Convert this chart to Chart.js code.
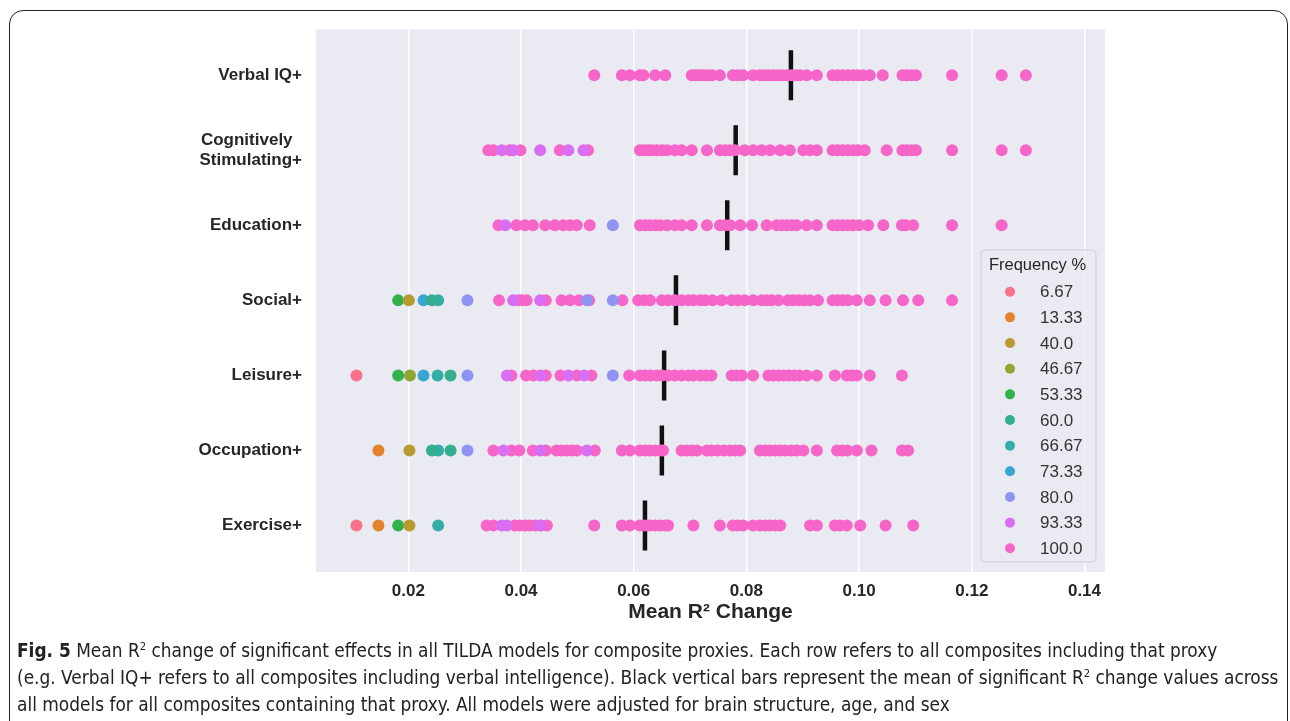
<!DOCTYPE html>
<html>
<head>
<meta charset="utf-8">
<script src="https://cdn.jsdelivr.net/npm/chart.js@4.4.1/dist/chart.umd.min.js"></script>
<style>
  body { margin: 0; background: #fff; width: 1290px; height: 721px; overflow: hidden; position: relative; }
  #frame { position: absolute; left: 9px; top: 10px; width: 1279px; height: 740px; border: 1.5px solid #222; border-radius: 14px; box-sizing: border-box; }
  #chart { position: absolute; left: 0; top: 0; }
  #caption { position: absolute; left: 17px; top: 637px; width: 1270px; font-family: 'Liberation Sans Narrow', 'DejaVu Sans Condensed', sans-serif; font-size: 18.9px; line-height: 27px; color: #222; white-space: nowrap; }
  #caption sup { font-size: 11px; line-height: 0; }
</style>
</head>
<body>
<div id="frame"></div>
<canvas id="chart" width="1290" height="640"></canvas>
<div id="caption"><b>Fig. 5</b> Mean R<sup>2</sup> change of significant effects in all TILDA models for composite proxies. Each row refers to all composites including that proxy<br>(e.g. Verbal IQ+ refers to all composites including verbal intelligence). Black vertical bars represent the mean of significant R<sup>2</sup> change values across<br>all models for all composites containing that proxy. All models were adjusted for brain structure, age, and sex</div>
<script>
// row labels (top to bottom)
const rows = ['Verbal IQ+', ['Cognitively  ', 'Stimulating+'], 'Education+', 'Social+', 'Leisure+', 'Occupation+', 'Exercise+'];
const xTicks = [0.02, 0.04, 0.06, 0.08, 0.10, 0.12, 0.14];

// frequency levels and their colours
const freqLevels = [6.67, 13.33, 40.0, 46.67, 53.33, 60.0, 66.67, 73.33, 80.0, 93.33, 100.0];
const freqLabels = ['6.67', '13.33', '40.0', '46.67', '53.33', '60.0', '66.67', '73.33', '80.0', '93.33', '100.0'];
const freqColors = ['#f77189', '#e3832f', '#b99a30', '#93a431', '#33b14c', '#33ae8e', '#35aca8', '#38a5d3', '#8f94f2', '#d96ef3', '#f665c8'];

// mean R2 change for each row (black bars)
const means = [0.0879, 0.0781, 0.0766, 0.0675, 0.0654, 0.0650, 0.0620];

// points with frequency 100 %
const verbalIQ = [0.0530, 0.0579, 0.0593, 0.0611, 0.0617, 0.0638, 0.0656, 0.0703, 0.0708, 0.0713, 0.0718, 0.0724, 0.0732, 0.0739, 0.0753, 0.0776, 0.0785, 0.0794, 0.0812, 0.0824, 0.0832, 0.0840, 0.0848, 0.0856, 0.0864, 0.0872, 0.0880, 0.0888, 0.0895, 0.0907, 0.0925, 0.0953, 0.0962, 0.0971, 0.0980, 0.0989, 0.0998, 0.1007, 0.1019, 0.1042, 0.1077, 0.1085, 0.1093, 0.1101, 0.1165, 0.1253, 0.1296];
const cognitive = [0.0342, 0.0351, 0.0380, 0.0399, 0.0469, 0.0519, 0.0611, 0.0618, 0.0625, 0.0632, 0.0641, 0.0650, 0.0659, 0.0673, 0.0685, 0.0703, 0.0730, 0.0753, 0.0762, 0.0771, 0.0780, 0.0797, 0.0812, 0.0827, 0.0842, 0.0860, 0.0877, 0.0901, 0.0913, 0.0925, 0.0953, 0.0962, 0.0971, 0.0980, 0.0989, 0.0998, 0.1010, 0.1049, 0.1077, 0.1085, 0.1093, 0.1101, 0.1165, 0.1253, 0.1296];
const education = [0.0360, 0.0392, 0.0407, 0.0421, 0.0443, 0.0460, 0.0475, 0.0487, 0.0499, 0.0522, 0.0611, 0.0620, 0.0629, 0.0638, 0.0647, 0.0659, 0.0673, 0.0685, 0.0703, 0.0730, 0.0753, 0.0762, 0.0771, 0.0789, 0.0810, 0.0836, 0.0854, 0.0863, 0.0872, 0.0880, 0.0889, 0.0907, 0.0925, 0.0953, 0.0962, 0.0971, 0.0980, 0.0989, 0.1000, 0.1016, 0.1043, 0.1076, 0.1083, 0.1096, 0.1165, 0.1253];
const social = [0.0361, 0.0395, 0.0401, 0.0410, 0.0444, 0.0472, 0.0487, 0.0503, 0.0521, 0.0580, 0.0608, 0.0619, 0.0629, 0.0650, 0.0661, 0.0673, 0.0685, 0.0697, 0.0706, 0.0718, 0.0727, 0.0740, 0.0756, 0.0774, 0.0785, 0.0797, 0.0812, 0.0827, 0.0836, 0.0845, 0.0857, 0.0874, 0.0883, 0.0893, 0.0903, 0.0913, 0.0927, 0.0953, 0.0962, 0.0971, 0.0980, 0.0996, 0.1019, 0.1047, 0.1078, 0.1105, 0.1165];
const leisure = [0.0383, 0.0409, 0.0422, 0.0444, 0.0470, 0.0499, 0.0525, 0.0592, 0.0611, 0.0620, 0.0630, 0.0641, 0.0650, 0.0661, 0.0673, 0.0685, 0.0697, 0.0706, 0.0718, 0.0728, 0.0738, 0.0774, 0.0783, 0.0792, 0.0812, 0.0839, 0.0848, 0.0857, 0.0866, 0.0875, 0.0885, 0.0894, 0.0907, 0.0925, 0.0957, 0.0978, 0.0987, 0.0996, 0.1019, 0.1076];
const occupation = [0.0351, 0.0383, 0.0397, 0.0421, 0.0444, 0.0463, 0.0472, 0.0481, 0.0490, 0.0499, 0.0531, 0.0579, 0.0593, 0.0611, 0.0620, 0.0629, 0.0638, 0.0647, 0.0652, 0.0685, 0.0694, 0.0703, 0.0712, 0.0730, 0.0738, 0.0749, 0.0760, 0.0771, 0.0780, 0.0789, 0.0824, 0.0833, 0.0842, 0.0851, 0.0860, 0.0869, 0.0880, 0.0889, 0.0901, 0.0925, 0.0961, 0.0970, 0.0979, 0.0996, 0.1022, 0.1076, 0.1087];
const exercise = [0.0339, 0.0351, 0.0389, 0.0398, 0.0407, 0.0416, 0.0425, 0.0436, 0.0446, 0.0530, 0.0579, 0.0593, 0.0611, 0.0620, 0.0629, 0.0638, 0.0647, 0.0656, 0.0661, 0.0706, 0.0753, 0.0776, 0.0785, 0.0794, 0.0812, 0.0824, 0.0833, 0.0842, 0.0851, 0.0860, 0.0913, 0.0925, 0.0957, 0.0966, 0.0978, 0.1002, 0.1047, 0.1096];

// points with lower frequency: [R2 change, frequency %]
const verbalIQLow = [];
const cognitiveLow = [[0.0366, 93.33], [0.0386, 93.33], [0.0434, 93.33], [0.0484, 93.33], [0.0511, 93.33]];
const educationLow = [[0.0372, 93.33], [0.0563, 80.0]];
const socialLow = [[0.0182, 53.33], [0.0201, 40.0], [0.0227, 73.33], [0.0242, 60.0], [0.0253, 66.67], [0.0305, 80.0], [0.0386, 93.33], [0.0434, 93.33], [0.0517, 80.0], [0.0563, 80.0]];
const leisureLow = [[0.0108, 6.67], [0.0182, 53.33], [0.0203, 46.67], [0.0227, 73.33], [0.0252, 66.67], [0.0275, 60.0], [0.0305, 80.0], [0.0375, 93.33], [0.0434, 93.33], [0.0484, 93.33], [0.0512, 93.33], [0.0563, 80.0]];
const occupationLow = [[0.0147, 13.33], [0.0202, 40.0], [0.0242, 60.0], [0.0253, 66.67], [0.0275, 60.0], [0.0305, 80.0], [0.0369, 93.33], [0.0434, 93.33], [0.0517, 93.33]];
const exerciseLow = [[0.0108, 6.67], [0.0147, 13.33], [0.0182, 53.33], [0.0202, 40.0], [0.0253, 66.67], [0.0366, 93.33], [0.0375, 93.33], [0.0434, 93.33]];

const fullRows = [verbalIQ, cognitive, education, social, leisure, occupation, exercise];
const lowRows = [verbalIQLow, cognitiveLow, educationLow, socialLow, leisureLow, occupationLow, exerciseLow];

// one scatter dataset per frequency level
const datasets = freqLevels.map((f, k) => {
    const pts = [];
    lowRows.forEach((row, i) => {
        row.forEach(p => { if (p[1] === f) pts.push({ x: p[0], y: i }); });
    });
    if (f === 100.0) {
        fullRows.forEach((row, i) => row.forEach(v => pts.push({ x: v, y: i })));
    }
    return {
        label: freqLabels[k],
        data: pts,
        backgroundColor: freqColors[k],
        borderWidth: 0,
        pointRadius: 6,
        pointHoverRadius: 6
    };
});

datasets.push({
    label: 'mean',
    data: means.map((m, i) => ({ x: m, y: i })),
    pointStyle: 'line',
    rotation: 90,
    pointRadius: 25,
    pointHoverRadius: 25,
    borderColor: '#111',
    borderWidth: 4.5,
    backgroundColor: '#111'
});

// grey plot background like seaborn darkgrid
const bgPlugin = {
    id: 'bg',
    beforeDraw(chart) {
        const { ctx, chartArea: a } = chart;
        ctx.save();
        ctx.fillStyle = '#eaeaf2';
        ctx.fillRect(a.left, a.top, a.right - a.left, a.bottom - a.top);
        ctx.restore();
    }
};

// legend box drawn inside the plot, lower right
const legendPlugin = {
    id: 'freqLegend',
    afterDraw(chart) {
        const ctx = chart.ctx;
        const x0 = 981, y0 = 250, w = 115, h = 312;
        ctx.save();
        ctx.fillStyle = 'rgba(234,234,242,0.85)';
        ctx.strokeStyle = '#cfcfd6';
        ctx.lineWidth = 1;
        ctx.beginPath();
        ctx.roundRect(x0, y0, w, h, 4);
        ctx.fill();
        ctx.stroke();
        ctx.fillStyle = '#262626';
        ctx.font = '16.5px "Liberation Sans", Arial, sans-serif';
        ctx.textAlign = 'center';
        ctx.textBaseline = 'middle';
        ctx.fillText('Frequency %', x0 + w / 2 - 1, y0 + 15);
        ctx.font = '17px "Liberation Sans", Arial, sans-serif';
        ctx.textAlign = 'left';
        freqLabels.forEach((lab, k) => {
            const y = y0 + 41.7 + k * 25.66;
            ctx.fillStyle = freqColors[k];
            ctx.beginPath();
            ctx.arc(x0 + 29, y, 5, 0, Math.PI * 2);
            ctx.fill();
            ctx.fillStyle = '#333';
            ctx.fillText(lab, x0 + 59, y + 1);
        });
        ctx.restore();
    }
};

new Chart(document.getElementById('chart'), {
    type: 'scatter',
    data: { datasets: datasets },
    plugins: [bgPlugin, legendPlugin],
    options: {
        responsive: false,
        animation: false,
        events: [],
        layout: { padding: { left: 0, top: 28, right: 185, bottom: 0 } },
        plugins: {
            legend: { display: false },
            tooltip: { enabled: false }
        },
        scales: {
            x: {
                type: 'linear',
                min: 0.00362,
                max: 0.14364,
                afterFit: s => { s.height = 68; },
                afterBuildTicks: s => { s.ticks = xTicks.map(v => ({ value: v })); },
                grid: { color: '#ffffff', lineWidth: 1.5, drawTicks: false },
                border: { display: false },
                ticks: {
                    padding: 9.5,
                    color: '#262626',
                    font: { family: '"Liberation Sans", Arial, sans-serif', size: 17, weight: 'bold' },
                    callback: v => v.toFixed(2)
                },
                title: {
                    display: true,
                    text: 'Mean R² Change',
                    color: '#262626',
                    font: { family: '"Liberation Sans", Arial, sans-serif', size: 21, weight: 'bold' },
                    padding: { top: 0, bottom: 15.4 }
                }
            },
            y: {
                type: 'linear',
                reverse: true,
                min: -0.61,
                max: 6.62,
                afterFit: s => { s.width = 316; },
                afterBuildTicks: s => { s.ticks = rows.map((r, i) => ({ value: i })); },
                grid: { display: false, drawTicks: false },
                border: { display: false },
                ticks: {
                    padding: 14,
                    color: '#262626',
                    font: { family: '"Liberation Sans", Arial, sans-serif', size: 17, weight: 'bold', lineHeight: 1.18 },
                    callback: v => rows[v]
                }
            }
        }
    }
});
</script>
</body>
</html>
